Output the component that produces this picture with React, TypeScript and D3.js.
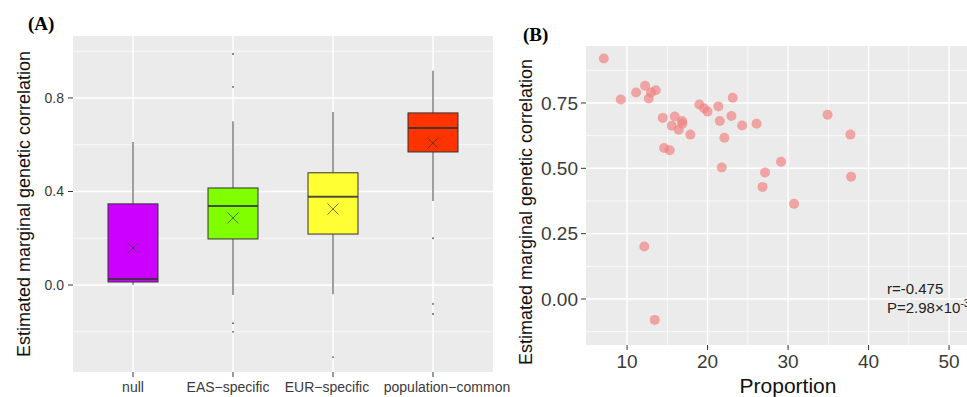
import * as d3 from "d3"

// panel A: box stats
const categories = ["null", "EAS\u2212specific", "EUR\u2212specific", "population\u2212common"]
const boxColors = ["#CC00FF", "#80FF00", "#FFFF33", "#FF3300"]
const boxLower = [0.013, 0.197, 0.218, 0.569]
const boxMedian = [0.026, 0.338, 0.377, 0.672]
const boxUpper = [0.347, 0.415, 0.48, 0.736]
const whiskerLow = [0.0, -0.043, -0.04, 0.359]
const whiskerHigh = [0.612, 0.7, 0.74, 0.916]
const boxMeans = [0.158, 0.287, 0.325, 0.607]
const outliers = [[], [0.988, 0.847, -0.163, -0.2], [-0.308], [0.2, -0.081, -0.124]]
const aMajorTicks = [0, 0.4, 0.8]
const aMinorTicks = [-0.2, 0.2, 0.6, 1.0]

// panel B: scatter points (proportion, correlation)
const proportion = [
  7.11, 9.22, 11.12, 12.24, 12.98, 13.57, 12.7, 14.43, 15.93, 15.55, 16.83, 16.87, 16.42, 17.86, 14.6, 15.3,
  18.98, 19.57, 20.0, 21.34, 23.13, 21.52, 22.96, 24.29, 26.09, 22.09, 34.91, 37.74, 21.76, 27.14, 29.13,
  26.83, 30.75, 37.83, 12.14, 13.44,
]
const correlation = [
  0.92, 0.763, 0.79, 0.816, 0.79, 0.799, 0.767, 0.693, 0.698, 0.663, 0.681, 0.671, 0.648, 0.629, 0.578, 0.569,
  0.744, 0.73, 0.717, 0.737, 0.77, 0.681, 0.7, 0.664, 0.671, 0.617, 0.705, 0.629, 0.503, 0.484, 0.525, 0.429,
  0.364, 0.468, 0.201, -0.08,
]
const bXMajor = [10, 20, 30, 40, 50]
const bXMinor = [15, 25, 35, 45, 55]
const bYMajor = [0, 0.25, 0.5, 0.75]
const bYMinor = [-0.125, 0.125, 0.375, 0.625, 0.875]

const font = "'Liberation Sans', Arial, sans-serif"
const tickText = "#3a3a3a"
// small nudges so the long category labels sit as in the original figure
const labelNudge = [0, -5, -6, 14]

export default function App() {
  // panel A scales
  const ax = d3.scaleLinear().domain([0.4, 4.6]).range([73, 493])
  const ay = d3.scaleLinear().domain([-0.372, 1.065]).range([372, 36])
  const boxHalf = ax(1.25) - ax(1)

  // panel B scales
  const bx = d3.scaleLinear().domain([4.9, 55]).range([586, 989.3])
  const by = d3.scaleLinear().domain([-0.176, 0.968]).range([345, 46])
  const points = proportion.map((p, i) => ({ p, c: correlation[i] }))

  const [ax0, ax1] = ax.range()
  const [ay0, ay1] = ay.range()
  const [bx0, bx1] = bx.range()
  const [by0, by1] = by.range()

  return (
    <svg
      width={967}
      height={397}
      style={{ position: "absolute", left: 0, top: 0, background: "#fff" }}
      fontFamily={font}
    >
      {/* ---------- Panel A ---------- */}
      <text x={28} y={30} fontFamily="'Liberation Serif', 'Times New Roman', serif" fontWeight="bold" fontSize={19}>
        (A)
      </text>
      <rect x={ax0} y={ay1} width={ax1 - ax0} height={ay0 - ay1} fill="#EBEBEB" />
      {aMinorTicks.map((t) => (
        <line key={"amn" + t} x1={ax0} x2={ax1} y1={ay(t)} y2={ay(t)} stroke="#fff" strokeWidth={0.7} />
      ))}
      {aMajorTicks.map((t) => (
        <line key={"amj" + t} x1={ax0} x2={ax1} y1={ay(t)} y2={ay(t)} stroke="#fff" strokeWidth={1.4} />
      ))}
      {categories.map((c, i) => (
        <line key={"avg" + c} x1={ax(i + 1)} x2={ax(i + 1)} y1={ay1} y2={ay0} stroke="#fff" strokeWidth={1.4} />
      ))}

      {categories.map((c, i) => {
        const cx = ax(i + 1)
        const my = ay(boxMeans[i])
        return (
          <g key={"box" + c}>
            <line x1={cx} x2={cx} y1={ay(whiskerHigh[i])} y2={ay(boxUpper[i])} stroke="#555" strokeWidth={1.1} />
            <line x1={cx} x2={cx} y1={ay(boxLower[i])} y2={ay(whiskerLow[i])} stroke="#555" strokeWidth={1.1} />
            <rect
              x={cx - boxHalf}
              y={ay(boxUpper[i])}
              width={boxHalf * 2}
              height={ay(boxLower[i]) - ay(boxUpper[i])}
              fill={boxColors[i]}
              stroke="#333"
              strokeWidth={1}
            />
            <line
              x1={cx - boxHalf}
              x2={cx + boxHalf}
              y1={ay(boxMedian[i])}
              y2={ay(boxMedian[i])}
              stroke="#333"
              strokeOpacity={0.85}
              strokeWidth={2}
            />
            {outliers[i].map((o, k) => (
              <circle key={k} cx={cx} cy={ay(o)} r={0.9} fill="#555" />
            ))}
            <path
              d={`M${cx - 5.5},${my - 5.5}L${cx + 5.5},${my + 5.5}M${cx - 5.5},${my + 5.5}L${cx + 5.5},${my - 5.5}`}
              stroke="#333"
              strokeOpacity={0.75}
              strokeWidth={0.9}
            />
          </g>
        )
      })}

      {aMajorTicks.map((t) => (
        <g key={"aty" + t}>
          <line x1={ax0 - 5} x2={ax0} y1={ay(t)} y2={ay(t)} stroke="#333" strokeWidth={1} />
          <text x={ax0 - 9} y={ay(t)} dy="0.35em" textAnchor="end" fontSize={14} fill={tickText}>
            {d3.format(".1f")(t)}
          </text>
        </g>
      ))}
      {categories.map((c, i) => (
        <g key={"atx" + c}>
          <line x1={ax(i + 1)} x2={ax(i + 1)} y1={ay0} y2={ay0 + 5} stroke="#333" strokeWidth={1} />
          <text x={ax(i + 1) + labelNudge[i]} y={392} textAnchor="middle" fontSize={14} fill={tickText}>
            {c}
          </text>
        </g>
      ))}
      <text transform={`translate(30,${(ay0 + ay1) / 2}) rotate(-90)`} textAnchor="middle" fontSize={18} fill="#111">
        Estimated marginal genetic correlation
      </text>

      {/* ---------- Panel B ---------- */}
      <text x={523} y={41} fontFamily="'Liberation Serif', 'Times New Roman', serif" fontWeight="bold" fontSize={19}>
        (B)
      </text>
      <rect x={bx0} y={by1} width={bx1 - bx0} height={by0 - by1} fill="#EBEBEB" />
      {bYMinor.map((t) => (
        <line key={"bymn" + t} x1={bx0} x2={bx1} y1={by(t)} y2={by(t)} stroke="#fff" strokeWidth={0.7} />
      ))}
      {bXMinor.map((t) => (
        <line key={"bxmn" + t} x1={bx(t)} x2={bx(t)} y1={by1} y2={by0} stroke="#fff" strokeWidth={0.7} />
      ))}
      {bYMajor.map((t) => (
        <line key={"bymj" + t} x1={bx0} x2={bx1} y1={by(t)} y2={by(t)} stroke="#fff" strokeWidth={1.4} />
      ))}
      {bXMajor.map((t) => (
        <line key={"bxmj" + t} x1={bx(t)} x2={bx(t)} y1={by1} y2={by0} stroke="#fff" strokeWidth={1.4} />
      ))}
      {points.map((d, i) => (
        <circle key={"pt" + i} cx={bx(d.p)} cy={by(d.c)} r={5} fill="#F08080" fillOpacity={0.68} />
      ))}
      <text x={887} y={294} fontSize={15} fill="#222">
        r=-0.475
      </text>
      <text x={887} y={313} fontSize={15} fill="#222">
        P=2.98×10
        <tspan dy={-6} fontSize={10}>
          -3
        </tspan>
      </text>

      {bYMajor.map((t) => (
        <g key={"bty" + t}>
          <line x1={bx0 - 5} x2={bx0} y1={by(t)} y2={by(t)} stroke="#333" strokeWidth={1} />
          <text x={bx0 - 8} y={by(t)} dy="0.36em" textAnchor="end" fontSize={19} fill={tickText}>
            {d3.format(".2f")(t)}
          </text>
        </g>
      ))}
      {bXMajor.map((t) => (
        <g key={"btx" + t}>
          <line x1={bx(t)} x2={bx(t)} y1={by0} y2={by0 + 5} stroke="#333" strokeWidth={1} />
          <text x={bx(t)} y={368} textAnchor="middle" fontSize={19} fill={tickText}>
            {t}
          </text>
        </g>
      ))}
      <text x={788} y={393} textAnchor="middle" fontSize={21} fill="#111">
        Proportion
      </text>
      <text transform="translate(532,212) rotate(-90)" textAnchor="middle" fontSize={18} fill="#111">
        Estimated marginal genetic correlation
      </text>
    </svg>
  )
}
